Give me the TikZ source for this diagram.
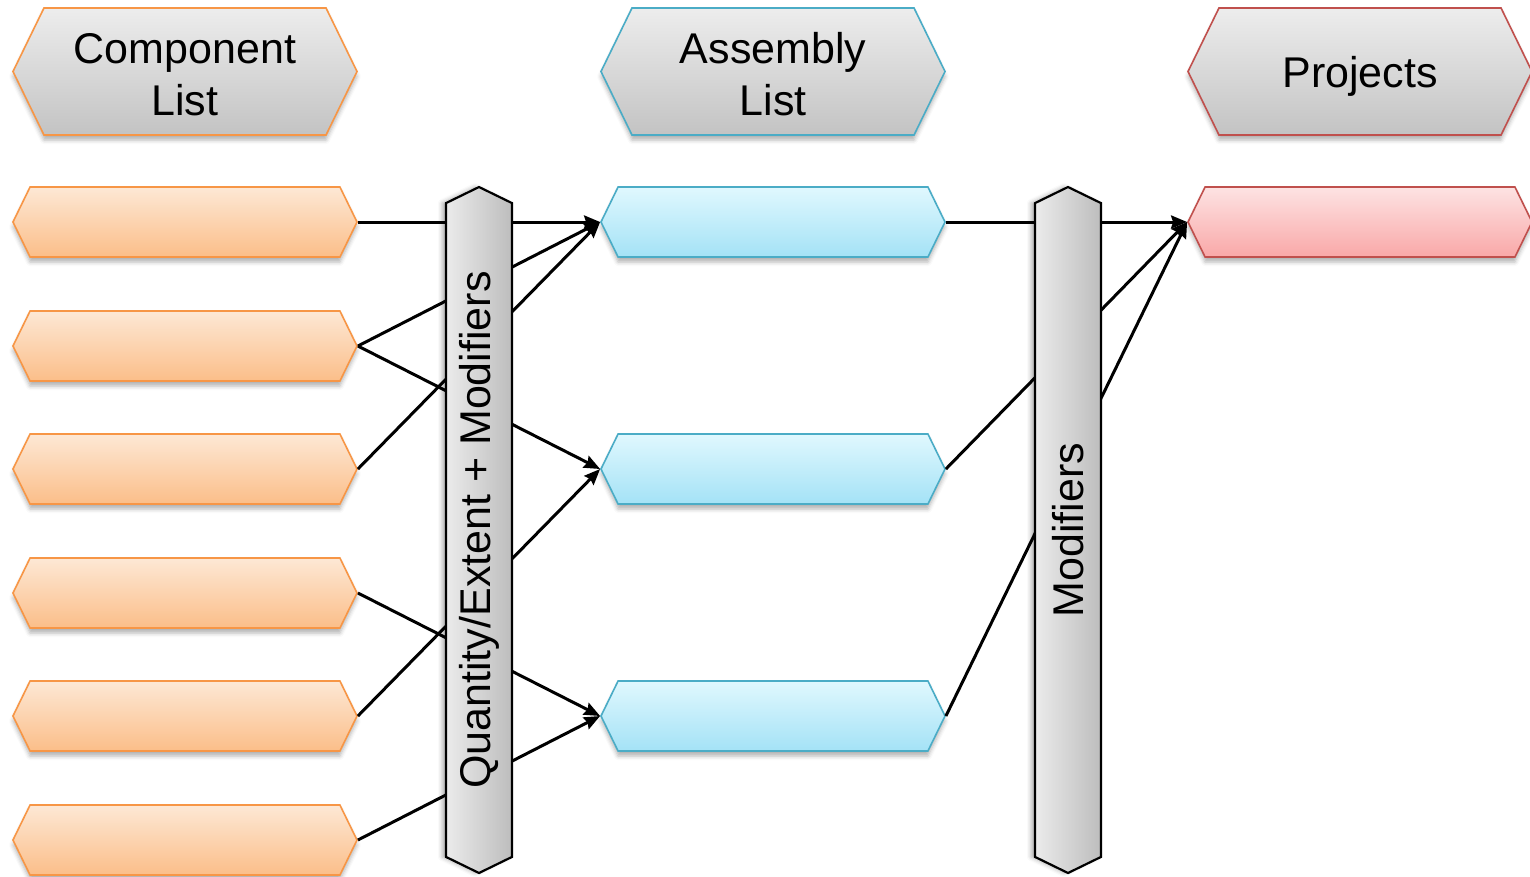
\documentclass[tikz,border=0pt]{standalone}
\usepackage{fontspec}
\setmainfont{Liberation Sans}
\usetikzlibrary{shapes.symbols,arrows.meta,shadows.blur}

\definecolor{hdrTop}{HTML}{EDEDED}
\definecolor{hdrBot}{HTML}{C3C3C3}
\definecolor{orgEdge}{HTML}{F79646}
\definecolor{orgTop}{HTML}{FDE8D5}
\definecolor{orgBot}{HTML}{FBBE89}
\definecolor{bluEdge}{HTML}{4BACC6}
\definecolor{bluTop}{HTML}{E0F8FE}
\definecolor{bluBot}{HTML}{A4E2F6}
\definecolor{redEdge}{HTML}{C0504D}
\definecolor{redTop}{HTML}{FDE3E3}
\definecolor{redBot}{HTML}{F9A8A8}
\definecolor{barLight}{HTML}{EBEBEB}
\definecolor{barDark}{HTML}{BDBDBD}

% extra height on the first header line pushes the label a little lower
\newcommand\hdrlift[1]{\rule{0pt}{#1}}

\tikzset{
  hexa/.style={signal, signal to=east and west, signal pointer angle=128,
    line width=1.6pt, inner sep=0pt,
    blur shadow={shadow xshift=0pt, shadow yshift=-5pt,
      shadow blur radius=4pt, shadow opacity=30}},
  header/.style={hexa, minimum width=344pt, minimum height=127pt,
    top color=hdrTop, bottom color=hdrBot, align=center,
    font=\fontsize{43}{52}\selectfont},
  rowbox/.style={hexa, minimum width=344pt, minimum height=70pt},
  comp/.style={rowbox, draw=orgEdge, top color=orgTop, bottom color=orgBot},
  asm/.style={rowbox, draw=bluEdge, top color=bluTop, bottom color=bluBot},
  proj/.style={rowbox, draw=redEdge, top color=redTop, bottom color=redBot},
  bar/.style={signal, signal to=east and west, signal pointer angle=128,
    rotate=90, minimum width=686pt, minimum height=66pt, inner sep=0pt,
    draw=black, line width=2.2pt, left color=barLight, right color=barDark,
    font=\fontsize{43}{52}\selectfont,
    blur shadow={shadow xshift=-4pt, shadow yshift=0pt,
      shadow blur radius=4pt, shadow opacity=30}},
  link/.style={line width=3pt},
  arr/.style={link, -{Stealth[length=16pt, width=13pt, inset=2pt]}}
}

\begin{document}
\begin{tikzpicture}[x=1pt, y=-1pt]
  \useasboundingbox (0,0) rectangle (1530,876);

  % column headers
  \node[header, draw=orgEdge] (hc) at (185,71.5) {\hdrlift{36pt}Component\\List};
  \node[header, draw=bluEdge] (ha) at (773,71.5) {\hdrlift{36pt}Assembly\\List};
  \node[header, draw=redEdge] (hp) at (1360,71.5) {\hdrlift{41pt}Projects};

  % components
  \node[comp] (c1) at (185,222) {};
  \node[comp] (c2) at (185,346) {};
  \node[comp] (c3) at (185,469) {};
  \node[comp] (c4) at (185,593) {};
  \node[comp] (c5) at (185,716) {};
  \node[comp] (c6) at (185,840) {};

  % assemblies
  \node[asm] (a1) at (773,222) {};
  \node[asm] (a2) at (773,469) {};
  \node[asm] (a3) at (773,716) {};

  % project
  \node[proj] (p1) at (1360,222) {};

  % component -> assembly links
  \draw[arr] (c1.east) -- (a1.west);
  \draw[arr] (c2.east) -- (a1.west);
  \draw[arr] (c2.east) -- (a2.west);
  \draw[arr] (c3.east) -- (a1.west);
  \draw[arr] (c4.east) -- (a3.west);
  \draw[arr] (c5.east) -- (a2.west);
  \draw[arr] (c6.east) -- (a3.west);

  % assembly -> project links
  \draw[arr] (a1.east) -- (p1.west);
  \draw[arr] (a2.east) -- (p1.west);
  \draw[arr] (a3.east) -- (p1.west);

  % vertical bars laid over the links
  \node[bar] (qm) at (479,530) {Quantity/Extent + Modifiers};
  \node[bar] (md) at (1068,530) {Modifiers};
\end{tikzpicture}
\end{document}
